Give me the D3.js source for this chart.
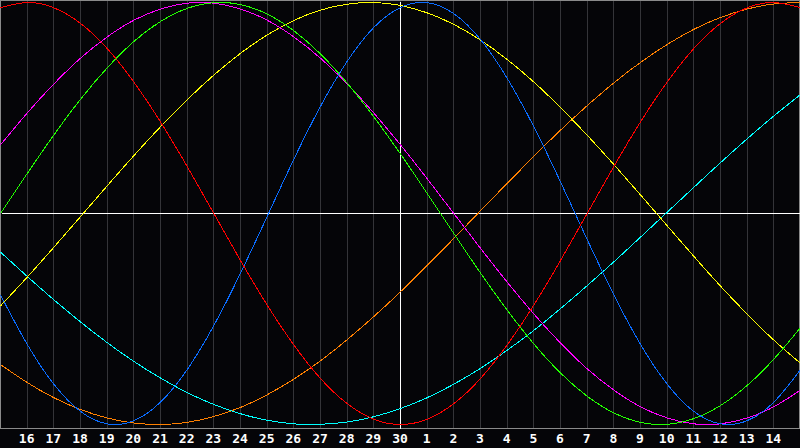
<!DOCTYPE html>
<html><head><meta charset="utf-8">
<script src="https://cdn.jsdelivr.net/npm/d3@7"></script>
<style>html,body{margin:0;padding:0;background:#050508;overflow:hidden}</style>
</head><body>
<svg id="c" width="800" height="448"></svg>
<script>
// day labels (index 1..29); index 0 and 30 are edge days 15
const dayLabels = ["15","16","17","18","19","20","21","22","23","24","25","26","27","28","29","30","1","2","3","4","5","6","7","8","9","10","11","12","13","14","15"];
const todayIndex = 15;
// cycle values per day index (0..30)
const red = [0.975,1.000,0.975,0.901,0.782,0.623,0.434,0.223,0.000,-0.223,-0.434,-0.623,-0.782,-0.901,-0.975,-1.000,-0.975,-0.901,-0.782,-0.623,-0.434,-0.223,0.000,0.223,0.434,0.623,0.782,0.901,0.975,1.000,0.975];
const blue = [-0.386,-0.620,-0.809,-0.938,-0.997,-0.982,-0.894,-0.740,-0.531,-0.283,-0.014,0.257,0.508,0.721,0.882,0.976,0.999,0.947,0.825,0.641,0.411,0.150,-0.123,-0.386,-0.620,-0.809,-0.938,-0.997,-0.982,-0.894,-0.740];
const green = [0.000,0.189,0.372,0.541,0.690,0.815,0.910,0.972,0.999,0.990,0.945,0.866,0.756,0.618,0.458,0.282,0.095,-0.095,-0.282,-0.458,-0.618,-0.756,-0.866,-0.945,-0.990,-0.999,-0.972,-0.910,-0.815,-0.690,-0.541];
const magenta = [0.325,0.476,0.614,0.736,0.837,0.916,0.969,0.997,0.997,0.969,0.916,0.837,0.736,0.614,0.476,0.325,0.165,0.000,-0.165,-0.325,-0.476,-0.614,-0.736,-0.837,-0.916,-0.969,-0.997,-0.997,-0.969,-0.916,-0.837];
const yellow = [-0.438,-0.302,-0.160,-0.015,0.131,0.274,0.411,0.539,0.656,0.759,0.846,0.915,0.964,0.992,1.000,0.986,0.951,0.896,0.822,0.730,0.623,0.502,0.371,0.232,0.088,-0.058,-0.203,-0.344,-0.477,-0.600,-0.710];
const orange = [-0.716,-0.801,-0.873,-0.929,-0.969,-0.993,-1.000,-0.990,-0.962,-0.919,-0.859,-0.785,-0.698,-0.598,-0.488,-0.371,-0.246,-0.118,0.013,0.143,0.271,0.395,0.511,0.619,0.716,0.801,0.873,0.929,0.969,0.993,1.000];
const cyan = [-0.183,-0.298,-0.409,-0.514,-0.612,-0.701,-0.780,-0.849,-0.905,-0.949,-0.980,-0.997,-0.999,-0.988,-0.963,-0.924,-0.873,-0.809,-0.734,-0.648,-0.554,-0.451,-0.342,-0.229,-0.112,0.006,0.124,0.241,0.354,0.462,0.564];

const series = [
  {values: orange, color: "#ff8000"},
  {values: cyan, color: "#00ffff"},
  {values: yellow, color: "#ffff00"},
  {values: magenta, color: "#ff00ff"},
  {values: green, color: "#22ff00"},
  {values: blue, color: "#0a6cff"},
  {values: red, color: "#ff0000"}
];

const svg = d3.select("#c");
const x = d3.scaleLinear().domain([0, 30]).range([0, 800]);
const y = d3.scaleLinear().domain([-1, 1]).range([424, 2]);

svg.append("rect").attr("x",0).attr("y",0).attr("width",800).attr("height",448).attr("fill","#050508");

const g = svg.append("g").attr("transform","translate(0.5,0.5)").attr("shape-rendering","crispEdges");

// vertical grid lines
g.selectAll("line.grid").data(d3.range(1, 30)).enter().append("line")
  .attr("x1", d => Math.round(x(d))).attr("x2", d => Math.round(x(d)))
  .attr("y1", 0).attr("y2", 428)
  .attr("stroke", "#343438").attr("stroke-width", 1);

// border
g.append("rect").attr("x",0).attr("y",0).attr("width",799).attr("height",428)
  .attr("fill","none").attr("stroke","#8a8a8a");

// midline
g.append("line").attr("x1",1).attr("x2",799).attr("y1",y(0)).attr("y2",y(0))
  .attr("stroke","#ffffff");
// today line
g.append("line").attr("x1",x(todayIndex)).attr("x2",x(todayIndex)).attr("y1",1).attr("y2",428)
  .attr("stroke","#ffffff");

const line = d3.line().x((d,i) => x(i)).y(d => y(d)).curve(d3.curveNatural);
svg.append("clipPath").attr("id","pc").append("rect").attr("x",0).attr("y",0).attr("width",800).attr("height",428);
const gl = svg.append("g").attr("clip-path","url(#pc)").append("g").attr("transform","translate(0.5,0.5)");
gl.selectAll("path").data(series).enter().append("path")
  .attr("d", d => line(d.values))
  .attr("fill","none").attr("stroke", d => d.color).attr("stroke-width",1)
  .attr("shape-rendering","crispEdges");

// day labels
svg.append("g").selectAll("text").data(d3.range(1, 30)).enter().append("text")
  .attr("x", d => x(d)).attr("y", 443)
  .attr("text-anchor","middle")
  .attr("fill","#ffffff")
  .attr("font-family","'DejaVu Sans Mono', monospace")
  .attr("font-weight","bold")
  .attr("font-size","13px")
  .text(d => dayLabels[d]);
</script>
</body></html>
